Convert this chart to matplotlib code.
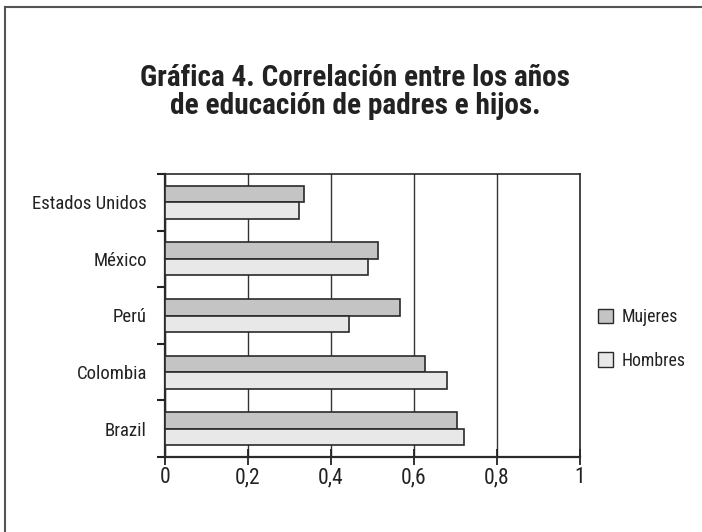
import matplotlib
matplotlib.use("Agg")
import matplotlib.pyplot as plt
from matplotlib import font_manager
from matplotlib.lines import Line2D
from matplotlib.patches import Patch
import numpy as np

categories = ["Estados Unidos", "México", "Perú", "Colombia", "Brazil"]
mujeres = [0.336, 0.514, 0.566, 0.627, 0.704]
hombres = [0.322, 0.490, 0.444, 0.680, 0.721]
xticks = [0, 0.2, 0.4, 0.6, 0.8, 1.0]
xticklabels = ["0", "0,2", "0,4", "0,6", "0,8", "1"]
series_names = ["Mujeres", "Hombres"]

# pick a narrow sans family for the labels
available = {f.name for f in font_manager.fontManager.ttflist}
preferred = ["Roboto Condensed", "Arial Narrow", "Liberation Sans Narrow", "Archivo Narrow",
             "Pragati Narrow", "IBM Plex Sans Condensed", "Open Sans Condensed", "DejaVu Sans"]
narrow = next(f for f in preferred if f in available or f == "DejaVu Sans")
plt.rcParams["font.family"] = [narrow, "DejaVu Sans"]

fig = plt.figure(figsize=(7.02, 5.32), dpi=100)
ax = fig.add_axes([165 / 702, 1 - 457 / 532, 415 / 702, (457 - 174) / 532])

y = np.arange(len(categories))[::-1]
h = 0.29
ax.barh(y + h / 2, mujeres, height=h, color="#c4c4c4", edgecolor="#2a2a2a", linewidth=1.2, zorder=3)
ax.barh(y - h / 2, hombres, height=h, color="#e8e8e8", edgecolor="#2a2a2a", linewidth=1.2, zorder=3)

ax.set_xlim(0, 1)
ax.set_ylim(-0.5, len(categories) - 0.5)
ax.set_xticks(xticks)
ax.set_xticklabels(xticklabels, fontsize=15.5, color="#222222")
ax.set_yticks(y)
ax.set_yticklabels(categories, fontsize=13.5, color="#222222")
ax.tick_params(axis="y", length=0, pad=13)
ax.set_yticks(np.arange(-0.5, len(categories), 1.0), minor=True)
ax.tick_params(axis="y", which="minor", length=6, width=1.5, direction="out", color="#222222")
ax.tick_params(axis="x", length=12, width=1.3, direction="inout", color="#222222", pad=1.5)
ax.xaxis.grid(True, color="#333333", linewidth=1.0, zorder=0)
ax.set_axisbelow(True)
for side in ["left", "bottom", "right", "top"]:
    ax.spines[side].set_color("#2a2a2a")
ax.spines["left"].set_linewidth(1.6)
ax.spines["bottom"].set_linewidth(1.6)
ax.spines["right"].set_linewidth(1.2)
ax.spines["top"].set_linewidth(1.2)

fig.text(355 / 702, 1 - 92 / 532,
         "Gráfica 4. Correlación entre los años\nde educación de padres e hijos.",
         ha="center", va="center", fontsize=21.1, fontweight="bold", color="#222222",
         linespacing=1.02)

handles = [Patch(facecolor="#c4c4c4", edgecolor="#2a2a2a", linewidth=1.0),
           Patch(facecolor="#e8e8e8", edgecolor="#2a2a2a", linewidth=1.0)]
fig.legend(handles, series_names, loc="center left",
           bbox_to_anchor=(598 / 702, 1 - 339 / 532), frameon=False,
           borderpad=0, borderaxespad=0,
           fontsize=12.8, handlelength=0.85, handleheight=0.85,
           labelspacing=1.42, handletextpad=0.5, labelcolor="#222222")

# outer frame (left and top edges)
fig.add_artist(Line2D([5 / 702, 5 / 702], [0, 1 - 7 / 532], color="#555555", linewidth=1.5,
                      transform=fig.transFigure))
fig.add_artist(Line2D([5 / 702, 1], [1 - 7 / 532, 1 - 7 / 532], color="#555555", linewidth=1.5,
                      transform=fig.transFigure))

fig.savefig("out.png", dpi=100, facecolor="white")
